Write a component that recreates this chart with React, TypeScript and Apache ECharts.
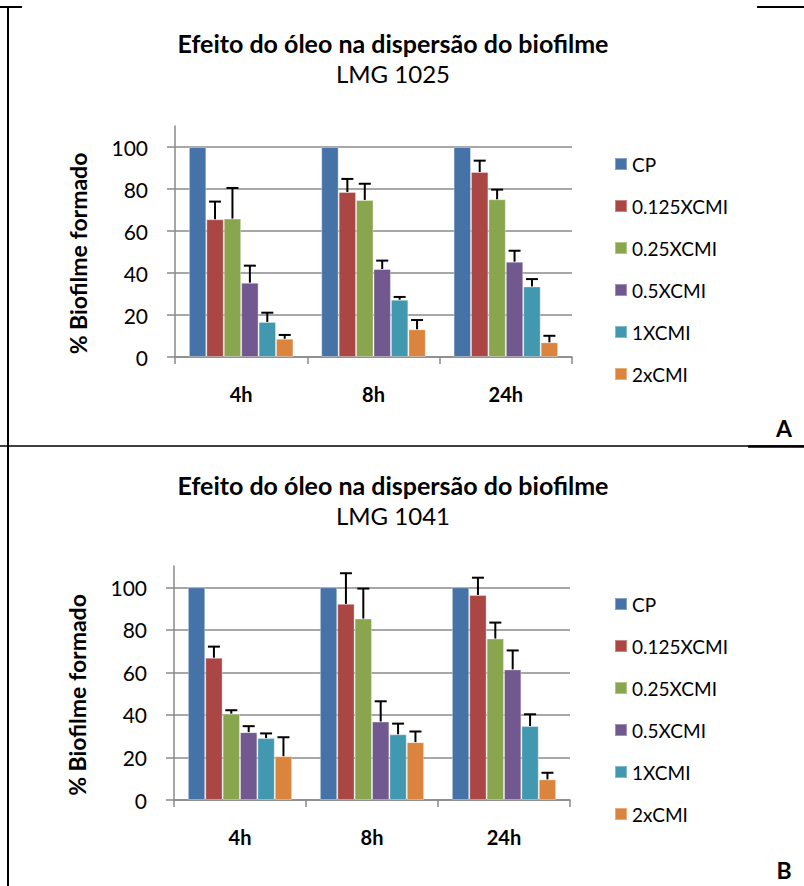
import React, { useEffect, useRef } from "react";
import * as echarts from "echarts";

// Time points and treatment groups
const categories = ["4h", "8h", "24h"];
const seriesNames = ["CP", "0.125XCMI", "0.25XCMI", "0.5XCMI", "1XCMI", "2xCMI"];
const colors = ["#4572A7", "#AA4643", "#89A54E", "#71588F", "#4198AF", "#DB843D"];
const yTicks = [0, 20, 40, 60, 80, 100];

// LMG 1025 — % biofilm formed (mean) per treatment, over 4h / 8h / 24h
const lmg1025Means = [
  [100, 100, 100],
  [65.6, 78.6, 88.1],
  [65.9, 74.8, 75.1],
  [35.4, 41.9, 45.4],
  [16.7, 27.3, 33.6],
  [8.7, 13.2, 7.0],
];
const lmg1025Errors = [
  [0, 0, 0],
  [8.4, 6.2, 5.4],
  [14.6, 7.7, 4.6],
  [8.1, 4.0, 5.2],
  [4.4, 1.3, 3.5],
  [1.8, 4.4, 3.1],
];

// LMG 1041 — % biofilm formed (mean) per treatment, over 4h / 8h / 24h
const lmg1041Means = [
  [100, 100, 100],
  [66.9, 92.2, 96.4],
  [40.6, 85.3, 75.9],
  [31.9, 36.9, 61.4],
  [29.1, 30.9, 34.8],
  [20.6, 27.2, 9.7],
];
const lmg1041Errors = [
  [0, 0, 0],
  [5.2, 14.4, 8.1],
  [1.6, 14.1, 7.5],
  [2.8, 9.5, 8.9],
  [2.2, 5.0, 5.5],
  [8.9, 5.0, 3.1],
];

const FONT = 'Lato, "Open Sans", "DejaVu Sans", sans-serif';
const CATEGORY_GAP = 0.21;
const AXIS_GRAY = "#8a8a8a";

function buildSeries(means: number[][], errors: number[][], axisIndex: number) {
  const bars = means.map((vals, i) => ({
    type: "bar",
    name: seriesNames[i],
    xAxisIndex: axisIndex,
    yAxisIndex: axisIndex,
    data: vals,
    barGap: "0%",
    barCategoryGap: `${CATEGORY_GAP * 100}%`,
    itemStyle: { color: colors[i], borderColor: "rgba(255,255,255,0.35)", borderWidth: 1 },
  }));
  const errData: number[][] = [];
  means.forEach((vals, si) => {
    vals.forEach((v, ci) => {
      if (errors[si][ci] > 0) errData.push([ci, v, errors[si][ci], si]);
    });
  });
  const errSeries = {
    type: "custom",
    name: "error",
    xAxisIndex: axisIndex,
    yAxisIndex: axisIndex,
    z: 5,
    encode: { x: 0, y: 1 },
    data: errData,
    renderItem: (_params: any, api: any) => {
      const ci = api.value(0);
      const v = api.value(1);
      const e = api.value(2);
      const si = api.value(3);
      const band = api.size([1, 0])[0];
      const w = (band * (1 - CATEGORY_GAP)) / seriesNames.length;
      const x = api.coord([ci, 0])[0] + (si - (seriesNames.length - 1) / 2) * w;
      const yBar = api.coord([ci, v])[1];
      const yTop = api.coord([ci, v + e])[1];
      const style = { stroke: "#000", lineWidth: 2 };
      return {
        type: "group",
        children: [
          { type: "line", shape: { x1: x, y1: yBar, x2: x, y2: yTop }, style },
          { type: "line", shape: { x1: x - 6, y1: yTop, x2: x + 6, y2: yTop }, style },
        ],
      };
    },
  };
  return [...bars, errSeries];
}

function xAxisFor(gridIndex: number) {
  return {
    type: "category",
    gridIndex,
    data: categories,
    axisLine: { lineStyle: { color: AXIS_GRAY, width: 1.5 } },
    axisTick: { show: true, length: 7, lineStyle: { color: AXIS_GRAY, width: 1.5 } },
    axisLabel: { color: "#000", fontFamily: FONT, fontWeight: "bold", fontSize: 20, margin: 27 },
  };
}

function yAxisFor(gridIndex: number) {
  return {
    type: "value",
    gridIndex,
    min: 0,
    max: 110,
    interval: 20,
    name: "% Biofilme formado",
    nameLocation: "middle",
    nameRotate: 90,
    nameGap: 86,
    nameTextStyle: {
      color: "#000",
      fontFamily: FONT,
      fontWeight: "bold",
      fontSize: 23,
      padding: [0, 24, 0, 0],
    },
    axisLine: { show: true, lineStyle: { color: AXIS_GRAY, width: 1.5 } },
    axisTick: {
      show: true,
      length: 8,
      customValues: yTicks,
      lineStyle: { color: AXIS_GRAY, width: 1.5 },
    },
    axisLabel: {
      color: "#000",
      fontFamily: FONT,
      fontSize: 21,
      margin: 27,
      customValues: yTicks,
    },
    splitLine: { show: true, customValues: yTicks, lineStyle: { color: AXIS_GRAY, width: 1.5 } },
  };
}

function legendFor(top: number) {
  return {
    orient: "vertical",
    left: 614,
    top,
    padding: 0,
    data: seriesNames,
    selectedMode: false,
    icon: "rect",
    itemWidth: 12,
    itemHeight: 12,
    itemGap: 22,
    textStyle: { color: "#000", fontFamily: FONT, fontSize: 19, lineHeight: 20 },
  };
}

function titleFor(text: string, sub: string, top: number) {
  return {
    text,
    subtext: sub,
    left: 388,
    top,
    textAlign: "center",
    itemGap: 6,
    textStyle: { color: "#000", fontFamily: FONT, fontWeight: "bold", fontSize: 25 },
    subtextStyle: { color: "#000", fontFamily: FONT, fontSize: 24 },
  };
}

export default function App() {
  const ref = useRef<HTMLDivElement>(null);

  useEffect(() => {
    if (!ref.current) return;
    const chart = echarts.init(ref.current, undefined, { renderer: "svg" });
    const line = (x1: number, y1: number, x2: number, y2: number, w: number) => ({
      type: "line",
      shape: { x1, y1, x2, y2 },
      style: { stroke: "#000", lineWidth: w },
      silent: true,
    });
    chart.setOption({
      animation: false,
      backgroundColor: "#fff",
      title: [
        titleFor("Efeito do óleo na dispersão do biofilme", "LMG 1025", 25),
        titleFor("Efeito do óleo na dispersão do biofilme", "LMG 1041", 467),
      ],
      legend: [legendFor(154), legendFor(594)],
      grid: [
        { left: 175, top: 126, width: 397, height: 231 },
        { left: 174, top: 566, width: 396, height: 234 },
      ],
      xAxis: [xAxisFor(0), xAxisFor(1)],
      yAxis: [yAxisFor(0), yAxisFor(1)],
      series: [
        ...buildSeries(lmg1025Means, lmg1025Errors, 0),
        ...buildSeries(lmg1041Means, lmg1041Errors, 1),
      ],
      graphic: [
        // panel frame lines
        line(8, 6, 8, 886, 2),
        line(0, 7, 22, 7, 2),
        line(757, 7, 804, 7, 2),
        line(0, 446, 804, 446, 1.5),
        line(748, 446.5, 804, 446.5, 2.5),
        {
          type: "text",
          x: 784,
          y: 428,
          style: {
            text: "A",
            fill: "#000",
            font: `bold 23px ${FONT}`,
            textAlign: "center",
            textVerticalAlign: "middle",
          },
        },
        {
          type: "text",
          x: 784,
          y: 870,
          style: {
            text: "B",
            fill: "#000",
            font: `bold 23px ${FONT}`,
            textAlign: "center",
            textVerticalAlign: "middle",
          },
        },
      ],
    });
    return () => chart.dispose();
  }, []);

  return (
    <div
      ref={ref}
      style={{ position: "absolute", left: 0, top: 0, width: 804, height: 886 }}
    />
  );
}
